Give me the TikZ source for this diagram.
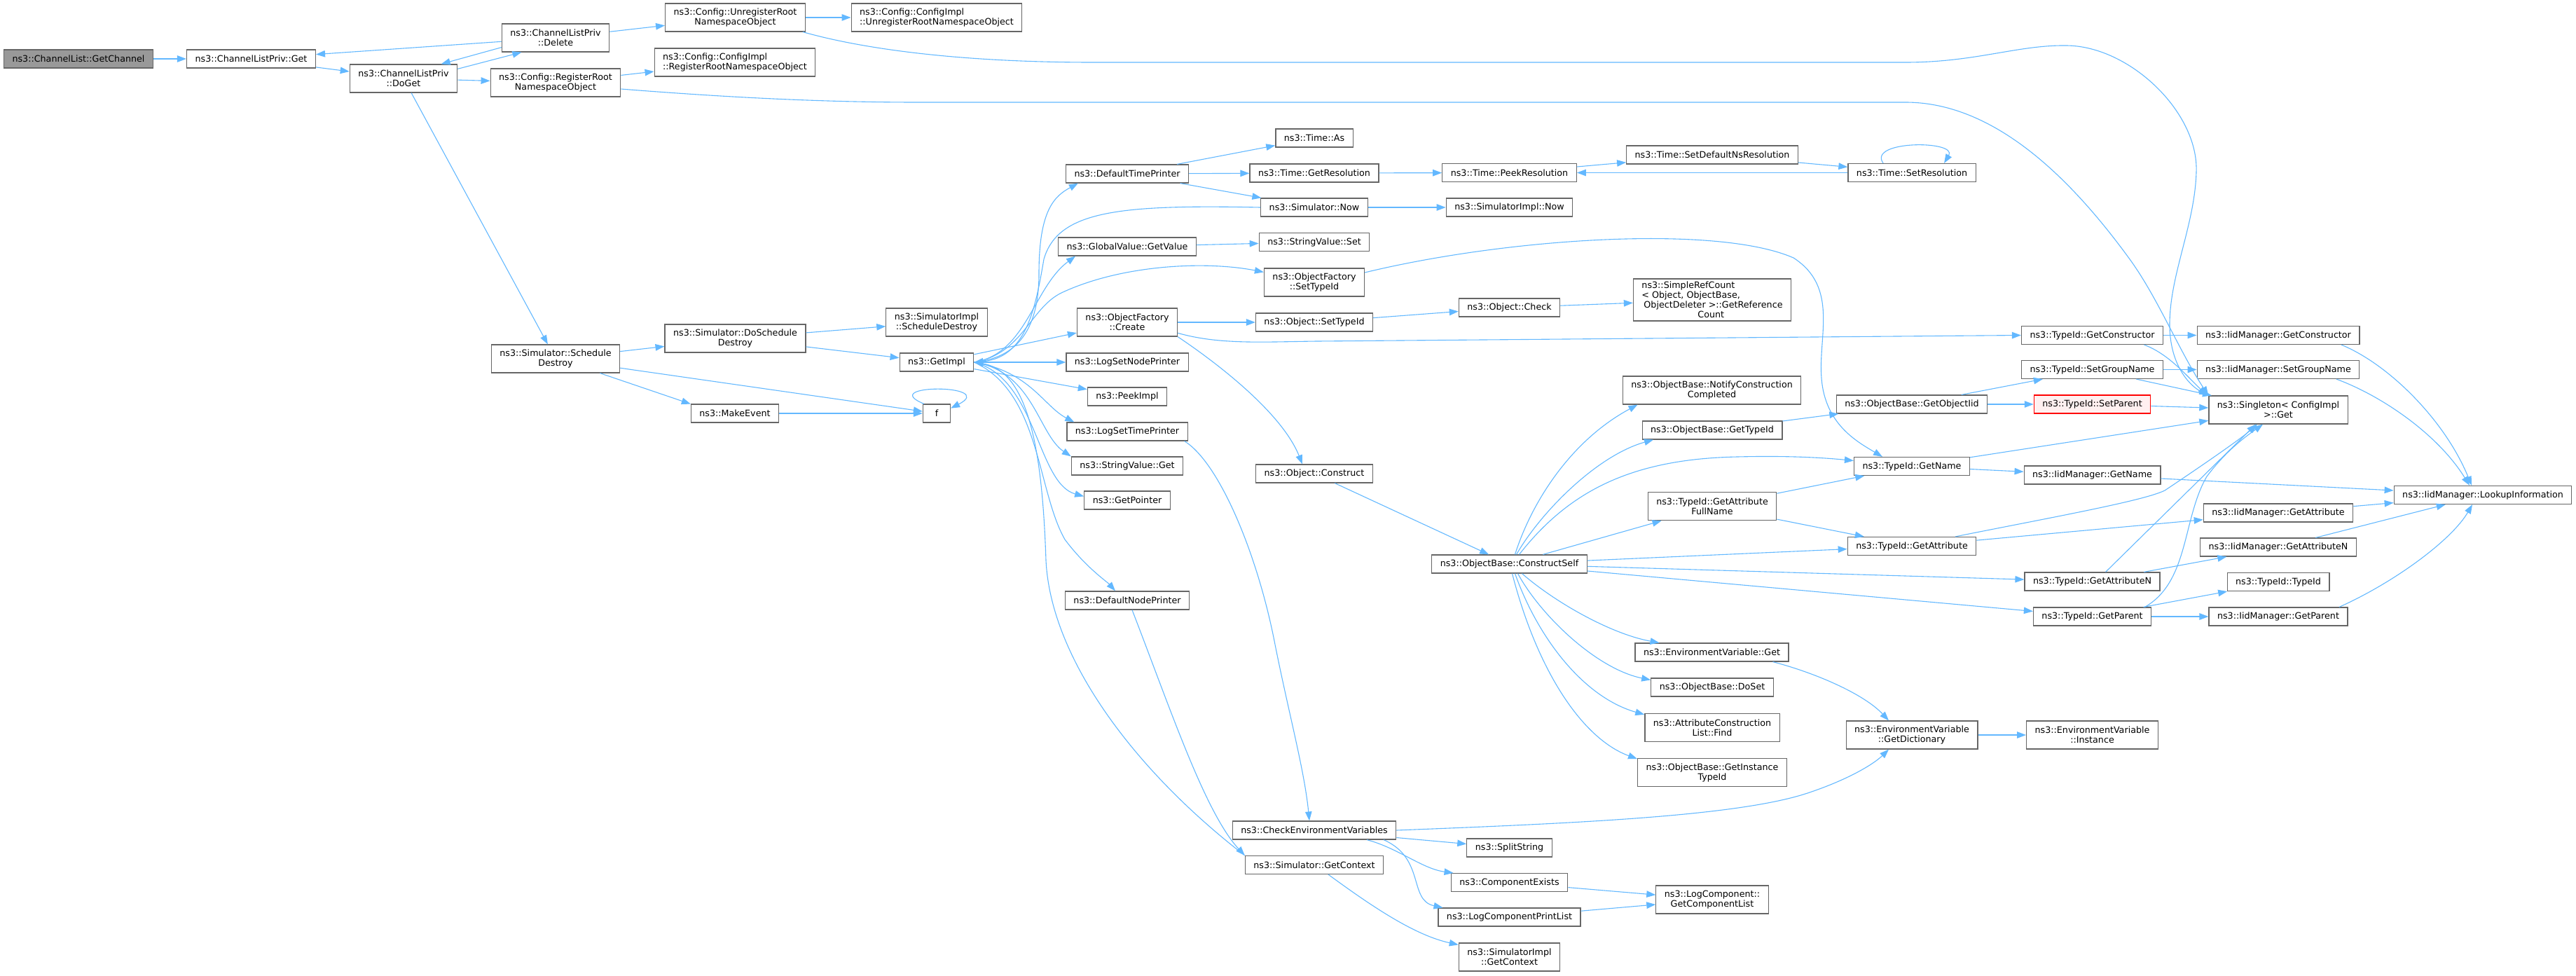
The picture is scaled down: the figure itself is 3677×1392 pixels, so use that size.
\documentclass[tikz,border=0pt]{standalone}
\usepackage{fontspec}
\setmainfont{DejaVu Sans}
\usetikzlibrary{arrows.meta}
\definecolor{edgeblue}{HTML}{63B8FF}
\definecolor{boxgray}{HTML}{666666}
\definecolor{rootgray}{HTML}{999999}
\definecolor{warnfill}{HTML}{FFF0F0}

\begin{document}
\begin{tikzpicture}[x=1pt, y=-1pt]
\useasboundingbox (0,0) rectangle (3677,1392);
\begin{scope}[every node/.style={rectangle,draw=boxgray,fill=white,line width=1.2pt,
              inner xsep=12pt,inner ysep=4pt,minimum height=26pt,align=center,
              font=\fontsize{12.7}{14}\selectfont},
              two/.style={minimum height=40pt}]
    \node (getChannel) at (112, 84) [fill=rootgray] {ns3::ChannelList::GetChannel};
    \node (clpGet) at (358.5, 84) {ns3::ChannelListPriv::Get};
    \node (clpDoGet) at (576, 112) [two] {ns3::ChannelListPriv\\::DoGet};

    \node (clpDelete) at (793, 54) [two] {ns3::ChannelListPriv\\::Delete};
    \node (regRoot) at (793, 118) [two] {ns3::Config::RegisterRoot\\NamespaceObject};
    \node (schedDestroy) at (793, 512) [two] {ns3::Simulator::Schedule\\Destroy};

    \node (unregRoot) at (1049.5, 25) [two] {ns3::Config::UnregisterRoot\\NamespaceObject};
    \node (implReg) at (1049, 89) [two,align=left] {ns3::Config::ConfigImpl\\::RegisterRootNamespaceObject};
    \node (doSched) at (1049.5, 483) [two] {ns3::Simulator::DoSchedule\\Destroy};
    \node (makeEvent) at (1049, 590) {ns3::MakeEvent};

    \node (implUnreg) at (1337, 25) [two,align=left] {ns3::Config::ConfigImpl\\::UnregisterRootNamespaceObject};
    \node (implSchedDestroy) at (1337, 460) [two] {ns3::SimulatorImpl\\::ScheduleDestroy};
    \node (getImpl) at (1337, 517) {ns3::GetImpl};
    \node (f) at (1337, 590) [minimum width=39pt] {f};

    \node (defTime) at (1609, 248) {ns3::DefaultTimePrinter};
    \node (globalGet) at (1609, 352) {ns3::GlobalValue::GetValue};
    \node (ofCreate) at (1609, 460) [two] {ns3::ObjectFactory\\::Create};
    \node (logNode) at (1609, 517) {ns3::LogSetNodePrinter};
    \node (peekImpl) at (1609, 566) {ns3::PeekImpl};
    \node (logTime) at (1609, 616) {ns3::LogSetTimePrinter};
    \node (strGet) at (1609, 665) {ns3::StringValue::Get};
    \node (getPointer) at (1609, 714) {ns3::GetPointer};
    \node (defNode) at (1609, 857) {ns3::DefaultNodePrinter};

    \node (timeAs) at (1876, 197) {ns3::Time::As};
    \node (getRes) at (1876, 247) {ns3::Time::GetResolution};
    \node (simNow) at (1876, 296) {ns3::Simulator::Now};
    \node (strSet) at (1876, 345.5) {ns3::StringValue::Set};
    \node (ofSetTypeId) at (1876, 403) [two] {ns3::ObjectFactory\\::SetTypeId};
    \node (objSetTypeId) at (1876, 460) {ns3::Object::SetTypeId};
    \node (objConstruct) at (1876, 676) {ns3::Object::Construct};
    \node (checkEnv) at (1876, 1185) {ns3::CheckEnvironmentVariables};
    \node (simGetContext) at (1876, 1234.5) {ns3::Simulator::GetContext};

    \node (peekRes) at (2154.5, 246.5) {ns3::Time::PeekResolution};
    \node (implNow) at (2154.5, 296) {ns3::SimulatorImpl::Now};
    \node (objCheck) at (2154.5, 439) {ns3::Object::Check};
    \node (constructSelf) at (2154.5, 805) {ns3::ObjectBase::ConstructSelf};
    \node (splitString) at (2154.5, 1210) {ns3::SplitString};
    \node (compExists) at (2154.5, 1259.5) {ns3::ComponentExists};
    \node (logPrintList) at (2154.5, 1309) {ns3::LogComponentPrintList};
    \node (implGetContext) at (2154.5, 1366) [two] {ns3::SimulatorImpl\\::GetContext};

    \node (setDefNs) at (2444, 221) {ns3::Time::SetDefaultNsResolution};
    \node (refCount) at (2444, 428) [align=left] {ns3::SimpleRefCount\\< Object, ObjectBase,\\\hspace*{3pt}ObjectDeleter >::GetReference\\\hspace*{80pt}Count};
    \node (notifyCC) at (2443.5, 557) [two] {ns3::ObjectBase::NotifyConstruction\\Completed};
    \node (obGetTypeId) at (2444, 614) {ns3::ObjectBase::GetTypeId};
    \node (getAttrFull) at (2444, 722.7) [two] {ns3::TypeId::GetAttribute\\FullName};
    \node (envGet) at (2443.5, 931) {ns3::EnvironmentVariable::Get};
    \node (doSet) at (2444, 981) {ns3::ObjectBase::DoSet};
    \node (findAttr) at (2444, 1038.5) [two] {ns3::AttributeConstruction\\List::Find};
    \node (instTypeId) at (2444, 1102.7) [two] {ns3::ObjectBase::GetInstance\\TypeId};
    \node (compList) at (2444, 1284) [two] {ns3::LogComponent::\\GetComponentList};

    \node (setRes) at (2729, 246.5) {ns3::Time::SetResolution};
    \node (getObjIid) at (2729, 577) {ns3::ObjectBase::GetObjectIid};
    \node (tidGetName) at (2729, 665.5) {ns3::TypeId::GetName};
    \node (tidGetAttr) at (2729, 779.5) {ns3::TypeId::GetAttribute};
    \node (getDict) at (2729, 1049) [two] {ns3::EnvironmentVariable\\::GetDictionary};

    \node (tidGetCtor) at (2986.5, 478.5) {ns3::TypeId::GetConstructor};
    \node (tidSetGroup) at (2986.5, 527.5) {ns3::TypeId::SetGroupName};
    \node (tidSetParent) at (2986.5, 577) [draw=red,fill=warnfill] {ns3::TypeId::SetParent};
    \node (iidGetName) at (2986.5, 678) {ns3::IidManager::GetName};
    \node (tidGetAttrN) at (2986.5, 830) {ns3::TypeId::GetAttributeN};
    \node (tidGetParent) at (2986.5, 880) {ns3::TypeId::GetParent};
    \node (envInstance) at (2986.5, 1049) [two] {ns3::EnvironmentVariable\\::Instance};

    \node (iidGetCtor) at (3252, 478.5) {ns3::IidManager::GetConstructor};
    \node (iidSetGroup) at (3252, 527.5) {ns3::IidManager::SetGroupName};
    \node (singleton) at (3252, 585) [two] {ns3::Singleton< ConfigImpl\\>::Get};
    \node (iidGetAttr) at (3252, 732) {ns3::IidManager::GetAttribute};
    \node (iidGetAttrN) at (3252, 781) {ns3::IidManager::GetAttributeN};
    \node (typeIdCtor) at (3252, 830.5) {ns3::TypeId::TypeId};
    \node (iidGetParent) at (3252, 880) {ns3::IidManager::GetParent};

    \node (lookup) at (3544, 706.5) {ns3::IidManager::LookupInformation};
\end{scope}

\begin{scope}[color=edgeblue, line width=1.1pt,
              >={Triangle[length=13pt,width=9.5pt]}]
    \path [->] (getChannel) edge (clpGet);
    \path [->] (clpGet) edge (clpDoGet);
    \path [->] (clpDelete) edge (clpGet);
    \path [->] (clpDoGet.10) edge (clpDelete.203);
    \path [->] (clpDelete.190) edge (clpDoGet.21);
    \path [->] (clpDoGet) edge (regRoot);
    \path [->] (clpDoGet) edge (schedDestroy);
    \path [->] (clpDelete) edge (unregRoot);
    \path [->] (unregRoot) edge (implUnreg);
    \path [->] (regRoot) edge (implReg);
    \draw [->] ([xshift=-4pt]unregRoot.south east) .. controls (1250,75) and (1400,89) .. (1560,89)
        -- (2720,89) .. controls (2820,89) and (2880,64) .. (2950,65)
        .. controls (3040,66) and (3138,160) .. (3135,245)
        .. controls (3133,320) and (3098,390) .. (3097,460)
        .. controls (3096,520) and (3125,550) .. (singleton.north west);
    \draw [->] ([yshift=-9pt]regRoot.east) .. controls (1000,136) and (1150,146) .. (1310,146)
        -- (2720,146) .. controls (2850,146) and (2960,260) .. (3040,370)
        .. controls (3080,425) and (3110,500) .. (singleton.north west);

    \path [->] (schedDestroy) edge (doSched);
    \path [->] (schedDestroy.-18) edge (makeEvent.168);
    \path [->] (schedDestroy) edge (f);
    \path [->] (makeEvent) edge (f);
    \draw [->] ([xshift=2pt]f.north west) .. controls (1250,548) and (1425,548) .. (f.20);
    \path [->] (doSched) edge (implSchedDestroy);
    \path [->] (doSched) edge (getImpl);

    \draw [->] (getImpl.east) .. controls (1460,510) and (1483,460) .. (1483,390)
        .. controls (1483,300) and (1505,280) .. ([xshift=18pt]defTime.south west);
    \draw [->] (getImpl.east) .. controls (1465,505) and (1475,410) .. ([xshift=25pt]globalGet.south west);
    \draw [->] (getImpl.east) .. controls (1460,505) and (1470,440) .. (1515,418)
        .. controls (1600,378) and (1720,372) .. ([yshift=-6pt]ofSetTypeId.north west);
    \draw [->] (simNow.west) .. controls (1600,292) and (1510,300) .. (1490,370)
        .. controls (1478,440) and (1465,510) .. (getImpl.east);
    \path [->] (getImpl) edge (ofCreate);
    \path [->] (getImpl) edge (logNode);
    \path [->] (getImpl) edge (peekImpl);
    \draw [->] (getImpl.east) .. controls (1470,530) and (1490,580) .. ([xshift=11pt]logTime.north west);
    \draw [->] (getImpl.east) .. controls (1475,530) and (1482,620) .. (strGet.north west);
    \draw [->] (getImpl.east) .. controls (1480,540) and (1480,690) .. ([yshift=-8pt]getPointer.north west);
    \draw [->] (getImpl.east) .. controls (1485,560) and (1480,700) .. (1520,770)
        .. controls (1550,810) and (1580,830) .. ([xshift=-17pt]defNode.north);
    \draw [->] (simGetContext.north west) .. controls (1620,1100) and (1500,940) .. (1493,800)
        .. controls (1488,650) and (1470,530) .. (getImpl.east);

    \path [->] (defTime) edge (timeAs);
    \path [->] (defTime) edge (getRes);
    \path [->] (defTime) edge (simNow);
    \path [->] (getRes) edge (peekRes);
    \path [->] (simNow) edge (implNow);
    \path [->] (peekRes) edge (setDefNs);
    \path [->] (setDefNs) edge (setRes);
    \path [->] (setRes) edge (peekRes);
    \draw [->] ([xshift=-41pt]setRes.north) .. controls (2665,200) and (2795,200) .. ([xshift=46pt]setRes.north);
    \path [->] (globalGet) edge (strSet);

    \draw [->] (ofSetTypeId.11) .. controls (2150,340) and (2450,320) .. (2560,368)
        .. controls (2625,410) and (2595,480) .. (2600,540)
        .. controls (2605,605) and (2650,630) .. ([xshift=-42pt]tidGetName.north);
    \path [->] (ofCreate) edge (objSetTypeId);
    \draw [->] (ofCreate.-12) .. controls (1740,492) and (1800,488) .. (1880,487) -- (tidGetCtor.west);
    \draw [->] (ofCreate.south east) .. controls (1740,520) and (1830,590) .. ([xshift=-17pt]objConstruct.north);
    \path [->] (objSetTypeId) edge (objCheck);
    \path [->] (objCheck) edge (refCount);

    \draw [->] ([xshift=-5pt]logTime.south east) .. controls (1740,660) and (1795,790) .. (1820,920)
        .. controls (1840,1020) and (1862,1100) .. ([xshift=-7pt]checkEnv.north);
    \draw [->] ([xshift=7pt]defNode.south) .. controls (1670,1010) and (1720,1160) .. (simGetContext.north west);
    \draw [->] ([xshift=20pt]simGetContext.south) .. controls (1960,1295) and (2020,1335) .. ([yshift=-3pt]implGetContext.north west);

    \path [->] (objConstruct) edge (constructSelf);
    \draw [->] ([xshift=8pt]constructSelf.north) .. controls (2185,720) and (2240,630) .. ([xshift=-106pt]notifyCC.south);
    \draw [->] ([xshift=10pt]constructSelf.north) .. controls (2200,730) and (2280,650) .. ([xshift=-84pt]obGetTypeId.south);
    \draw [->] ([xshift=14pt]constructSelf.north) .. controls (2240,700) and (2330,655) .. (2480,652)
        .. controls (2560,650) and (2610,654) .. ([yshift=8pt]tidGetName.west);
    \path [->] (constructSelf) edge (getAttrFull);
    \path [->] (constructSelf) edge (tidGetAttr);
    \path [->] (constructSelf) edge (tidGetAttrN);
    \path [->] (constructSelf) edge (tidGetParent);
    \draw [->] ([xshift=18pt]constructSelf.south) .. controls (2220,860) and (2300,905) .. ([xshift=-75pt]envGet.north);
    \draw [->] ([xshift=12pt]constructSelf.south) .. controls (2200,880) and (2280,955) .. ([yshift=-3pt]doSet.north west);
    \draw [->] ([xshift=8pt]constructSelf.south) .. controls (2195,910) and (2260,995) .. ([yshift=-2pt]findAttr.north west);
    \draw [->] ([xshift=4pt]constructSelf.south) .. controls (2195,960) and (2260,1055) .. ([yshift=-1pt]instTypeId.north west);

    \path [->] (obGetTypeId) edge (getObjIid);
    \path [->] (getObjIid) edge (tidSetGroup);
    \path [->] (getObjIid) edge (tidSetParent);
    \path [->] (getAttrFull) edge (tidGetName);
    \path [->] (getAttrFull) edge (tidGetAttr);
    \path [->] (tidGetName) edge (singleton);
    \path [->] (tidGetName) edge (iidGetName);
    \draw [->] ([xshift=62pt]tidGetAttr.north) .. controls (2920,740) and (3060,715) .. (3090,700)
        .. controls (3150,660) and (3200,625) .. ([xshift=-30pt]singleton.south);
    \path [->] (tidGetAttr) edge (iidGetAttr);
    \path [->] ([xshift=19pt]tidGetAttrN.north) edge ([xshift=-32pt]singleton.south);
    \path [->] (tidGetAttrN) edge (iidGetAttrN);
    \draw [->] ([xshift=75pt]tidGetParent.north) .. controls (3125,830) and (3115,740) .. (3150,680)
        .. controls (3180,640) and (3210,620) .. ([xshift=-22pt]singleton.south);
    \path [->] (tidGetParent) edge (typeIdCtor);
    \path [->] (tidGetParent) edge (iidGetParent);
    \path [->] (tidGetCtor) edge (iidGetCtor);
    \draw [->] ([xshift=74pt]tidGetCtor.south) .. controls (3095,505) and (3120,535) .. ([xshift=-2pt]singleton.north west);
    \path [->] (tidSetGroup) edge (iidSetGroup);
    \path [->] (tidSetGroup) edge (singleton);
    \path [->] (tidSetParent) edge (singleton);

    \draw [->] ([xshift=90pt]iidGetCtor.south) .. controls (3410,520) and (3490,600) .. ([xshift=-16pt]lookup.north);
    \draw [->] ([xshift=83pt]iidSetGroup.south) .. controls (3400,565) and (3480,620) .. ([xshift=-19pt]lookup.north);
    \path [->] (iidGetName) edge (lookup);
    \path [->] (iidGetAttr) edge (lookup);
    \path [->] (iidGetAttrN) edge (lookup);
    \draw [->] ([xshift=87pt]iidGetParent.north) .. controls (3420,830) and (3500,770) .. ([xshift=-15pt]lookup.south);

    \draw [->] ([xshift=87pt]envGet.south) .. controls (2590,960) and (2660,990) .. ([xshift=-33pt]getDict.north);
    \path [->] (getDict) edge (envInstance);
    \draw [->] (checkEnv.east) .. controls (2250,1175) and (2480,1165) .. (2580,1132)
        .. controls (2640,1112) and (2675,1090) .. ([xshift=-33pt]getDict.south);
    \path [->] (checkEnv) edge (splitString);
    \draw [->] ([xshift=75pt]checkEnv.south) .. controls (1995,1210) and (2030,1240) .. ([xshift=-80pt]compExists.north);
    \draw [->] ([xshift=99pt]checkEnv.south) .. controls (2035,1225) and (2010,1285) .. ([xshift=-95pt]logPrintList.north);
    \path [->] (compExists) edge (compList);
    \path [->] (logPrintList) edge (compList);
\end{scope}
\end{tikzpicture}
\end{document}
